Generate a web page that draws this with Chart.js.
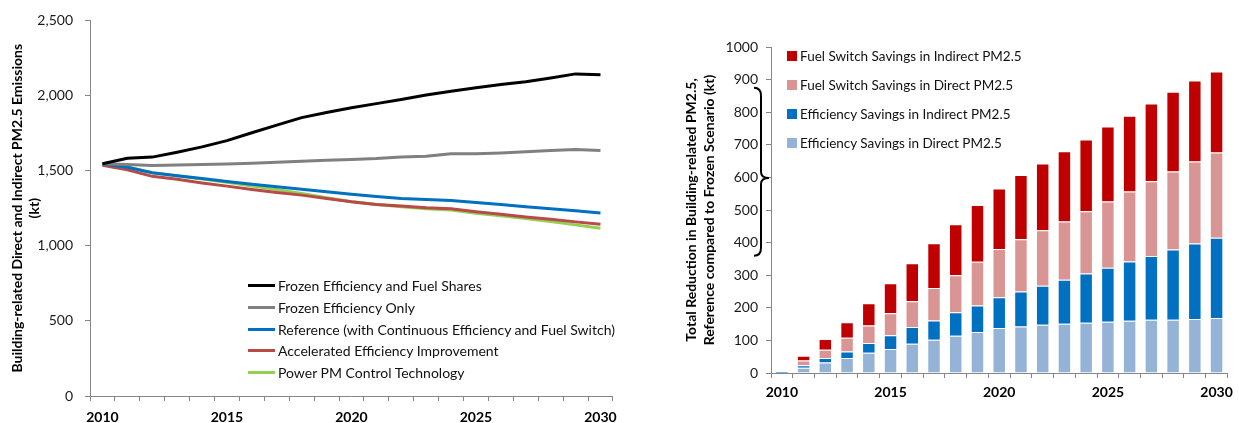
<!DOCTYPE html>
<html>
<head>
<meta charset="utf-8">
<script src="https://cdn.jsdelivr.net/npm/chart.js@4.4.1/dist/chart.umd.min.js"></script>
<style>
  html, body { margin: 0; padding: 0; background: #fff; }
  body { width: 1239px; height: 423px; position: relative; overflow: hidden; font-family: Lato, "Open Sans", sans-serif; }
  #left-wrap { position: absolute; left: 0; top: 0; width: 625px; height: 423px; }
  #right-wrap { position: absolute; left: 640px; top: 0; width: 599px; height: 423px; }
  .legend { position: absolute; color: #111; white-space: nowrap; }
  .legend .row { display: flex; align-items: center; }
  #left-legend { left: 248px; top: 275px; font-size: 14px; }
  #left-legend .row { height: 21.7px; }
  #left-legend .swatch { width: 27px; height: 3px; margin-right: 3px; }
  #right-legend { left: 787px; top: 42px; font-size: 13.5px; }
  #right-legend .row { height: 28.8px; }
  #right-legend .swatch { width: 10px; height: 10px; margin-right: 3px; }
</style>
</head>
<body>
<div id="left-wrap"><canvas id="emissions-chart" width="625" height="423"></canvas></div>
<div id="right-wrap"><canvas id="savings-chart" width="599" height="423"></canvas></div>
<div id="left-legend" class="legend"></div>
<div id="right-legend" class="legend"></div>
<script>
const years = ["2010","2011","2012","2013","2014","2015","2016","2017","2018","2019","2020",
  "2021","2022","2023","2024","2025","2026","2027","2028","2029","2030"];

// left chart: emissions by scenario (kt)
const frozenEffFuel = [1546,1583,1590,1623,1658,1700,1752,1803,1853,1887,1919,1946,1974,2003,2029,2051,2073,2091,2117,2144,2139];
const frozenEffOnly = [1546,1541,1535,1537,1541,1545,1550,1556,1563,1569,1574,1580,1590,1596,1612,1612,1618,1625,1634,1640,1634];
const reference     = [1546,1523,1486,1466,1447,1428,1409,1392,1376,1359,1343,1328,1315,1308,1302,1288,1275,1260,1247,1233,1218];
const accelerated   = [1535,1506,1462,1442,1418,1397,1374,1354,1337,1315,1293,1275,1264,1253,1247,1227,1209,1192,1176,1159,1143];
const powerPM       = [1546,1525,1486,1466,1445,1422,1398,1374,1348,1319,1293,1275,1260,1247,1238,1216,1199,1181,1161,1139,1117];

// right chart: stacked savings (kt)
const effDirect   = [1,16,32,46,62,74,90,102,114,126,138,143,148,151,154,157,160,163,163,166,169];
const effIndirect = [4,8,14,20,30,42,51,59,72,81,94,107,120,135,151,166,182,196,216,231,246];
const fuelDirect  = [0,14,25,42,54,67,79,100,114,134,148,160,170,179,191,203,215,229,239,252,261];
const fuelIndirect= [0,15,33,48,68,92,117,137,156,174,186,197,205,215,220,230,232,239,245,248,249];

const AXIS = "#868686";
const TICK_TEXT = "#1a1a1a";
const FONT = "Lato, 'Open Sans', sans-serif";

function everyFifth(value, index) {
  return index % 5 === 0 ? years[index] : "";
}

const lineSeries = [
  { label: "Frozen Efficiency and Fuel Shares", data: frozenEffFuel, color: "#000000" },
  { label: "Frozen Efficiency Only", data: frozenEffOnly, color: "#808080" },
  { label: "Reference (with Continuous  Efficiency and Fuel Switch)", data: reference, color: "#0070C0" },
  { label: "Accelerated Efficiency Improvement", data: accelerated, color: "#B84A47" },
  { label: "Power PM Control Technology", data: powerPM, color: "#92D050" },
];

new Chart(document.getElementById("emissions-chart"), {
  type: "line",
  data: {
    labels: years,
    datasets: lineSeries.map(s => ({
      label: s.label,
      data: s.data,
      borderColor: s.color,
      backgroundColor: s.color,
      borderWidth: 3,
      pointRadius: 0,
      tension: 0,
    })),
  },
  options: {
    responsive: false,
    animation: false,
    layout: { padding: { left: 0, top: 17, right: 12, bottom: 0 } },
    plugins: { legend: { display: false }, tooltip: { enabled: false } },
    scales: {
      x: {
        type: "category",
        offset: true,
        grid: { drawOnChartArea: false, offset: true, tickLength: 5, color: AXIS },
        border: { color: AXIS },
        ticks: {
          autoSkip: false, maxRotation: 0, padding: 8, color: "#000",
          font: { family: FONT, size: 14, weight: "bold" },
          callback: everyFifth,
        },
        afterFit: s => { s.height = 27; },
      },
      y: {
        min: 0, max: 2500,
        grid: { drawOnChartArea: false, tickLength: 5, color: AXIS },
        border: { color: AXIS },
        ticks: {
          stepSize: 500, padding: 12, color: TICK_TEXT,
          font: { family: FONT, size: 14 },
          callback: v => v.toLocaleString("en-US"),
        },
        title: {
          display: true,
          text: ["Building-related Direct and Indirect PM2.5 Emissions", "(kt)"],
          color: "#000",
          font: { family: FONT, size: 14, weight: "bold", lineHeight: 1.2 },
          padding: { top: 9, bottom: 0 },
        },
        afterFit: s => { s.width = 90; },
      },
    },
  },
});

const barSeries = [
  { label: "Efficiency Savings in Direct PM2.5", data: effDirect, color: "#95B3D7" },
  { label: "Efficiency Savings in Indirect PM2.5", data: effIndirect, color: "#0070C0" },
  { label: "Fuel Switch Savings in Direct PM2.5", data: fuelDirect, color: "#D99594" },
  { label: "Fuel Switch Savings in Indirect PM2.5", data: fuelIndirect, color: "#C00000" },
];

// curly brace next to the y axis, spanning roughly 360-875 kt
const braceRange = { from: 360, to: 875, tip: 598 };
const bracePlugin = {
  id: "brace",
  afterDraw(chart) {
    const y = chart.scales.y;
    const ctx = chart.ctx;
    const top = y.getPixelForValue(braceRange.to);
    const bot = y.getPixelForValue(braceRange.from);
    const mid = y.getPixelForValue(braceRange.tip);
    const xv = chart.chartArea.left - 10;
    const xEnd = xv - 7;
    const xTip = chart.chartArea.left - 2;
    ctx.save();
    ctx.strokeStyle = "#000";
    ctx.lineWidth = 2;
    ctx.beginPath();
    ctx.moveTo(xEnd, top);
    ctx.quadraticCurveTo(xv, top, xv, top + 8);
    ctx.lineTo(xv, mid - 6);
    ctx.quadraticCurveTo(xv, mid, xTip, mid);
    ctx.quadraticCurveTo(xv, mid, xv, mid + 6);
    ctx.lineTo(xv, bot - 8);
    ctx.quadraticCurveTo(xv, bot, xEnd, bot);
    ctx.stroke();
    ctx.restore();
  },
};

new Chart(document.getElementById("savings-chart"), {
  type: "bar",
  data: {
    labels: years,
    datasets: barSeries.map(s => ({
      label: s.label,
      data: s.data,
      backgroundColor: s.color,
      borderColor: "rgba(255,255,255,0.45)",
      borderWidth: 1,
      categoryPercentage: 1,
      barPercentage: 0.62,
    })),
  },
  options: {
    responsive: false,
    animation: false,
    layout: { padding: { left: 0, top: 47, right: 8, bottom: 0 } },
    plugins: { legend: { display: false }, tooltip: { enabled: false } },
    scales: {
      x: {
        stacked: true,
        grid: { drawOnChartArea: false, offset: true, tickLength: 5, color: AXIS },
        border: { color: AXIS },
        ticks: {
          autoSkip: false, maxRotation: 0, padding: 6, color: "#000",
          font: { family: FONT, size: 14, weight: "bold" },
          callback: everyFifth,
        },
        afterFit: s => { s.height = 50; },
      },
      y: {
        stacked: true,
        min: 0, max: 1000,
        grid: { drawOnChartArea: false, tickLength: 5, color: AXIS },
        border: { color: AXIS },
        ticks: {
          stepSize: 100, padding: 8, color: TICK_TEXT,
          font: { family: FONT, size: 14 },
          callback: v => String(v),
        },
        title: {
          display: true,
          text: ["Total Reduction in Building-related PM2.5,", "Reference compared to Frozen Scenario (kt)"],
          color: "#000",
          font: { family: FONT, size: 14, weight: "bold", lineHeight: 1.3 },
          padding: { top: 42, bottom: 0 },
        },
        afterFit: s => { s.width = 131; },
      },
    },
  },
  plugins: [bracePlugin],
});

// html legends
const leftLegend = document.getElementById("left-legend");
leftLegend.innerHTML = lineSeries.map(s =>
  `<div class="row"><span class="swatch" style="background:${s.color}"></span>${s.label}</div>`).join("");

const rightLegend = document.getElementById("right-legend");
rightLegend.innerHTML = [...barSeries].reverse().map(s =>
  `<div class="row"><span class="swatch" style="background:${s.color}"></span>${s.label}</div>`).join("");
</script>
</body>
</html>
